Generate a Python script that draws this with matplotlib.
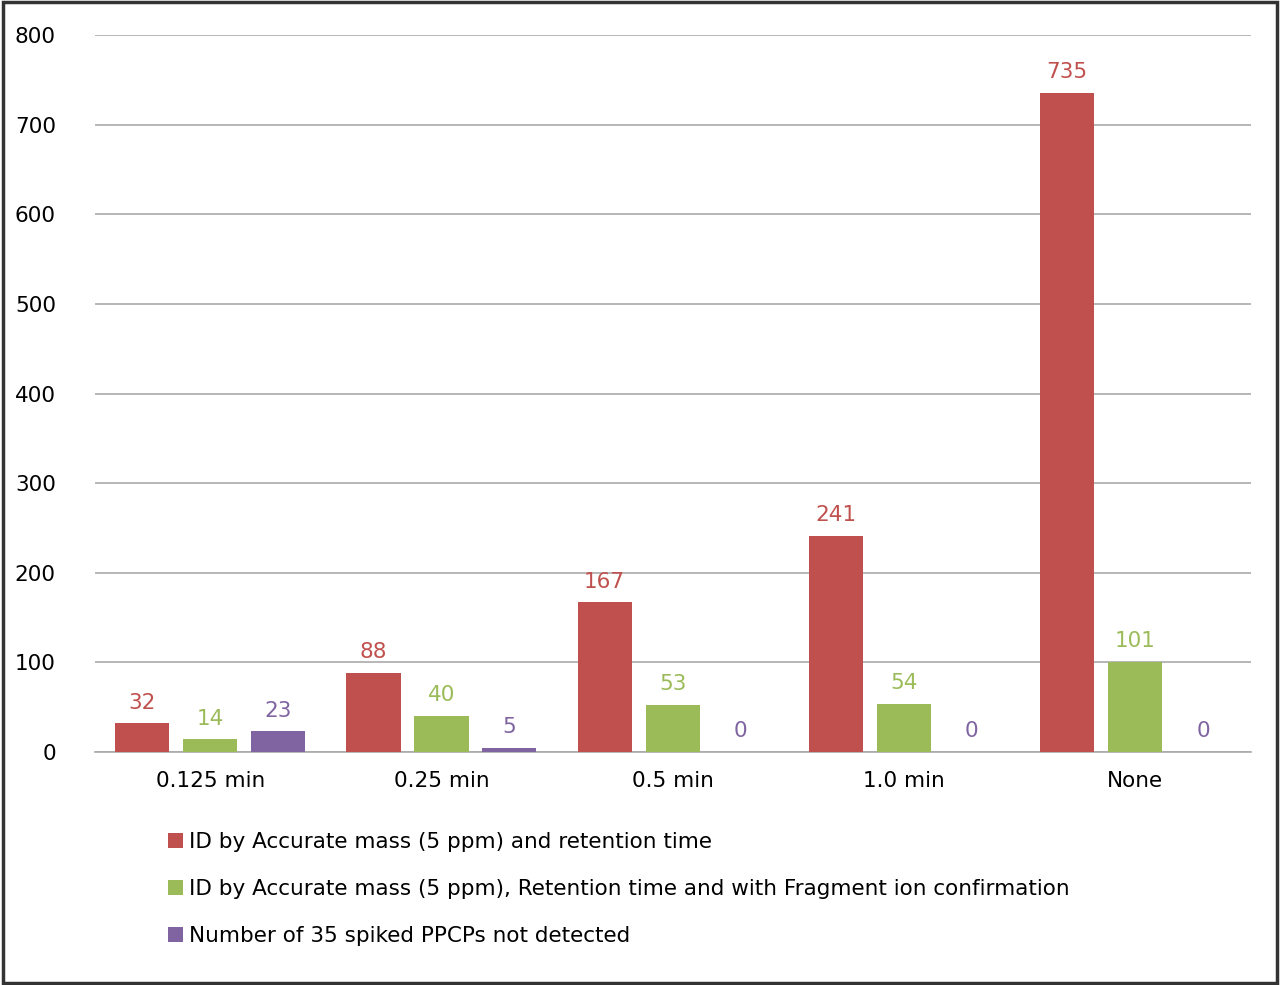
import matplotlib
matplotlib.use("Agg")
import matplotlib.pyplot as plt
from matplotlib.patches import Rectangle
import numpy as np

categories = ["0.125 min", "0.25 min", "0.5 min", "1.0 min", "None"]
series_names = ["ID by Accurate mass (5 ppm) and retention time",
                "ID by Accurate mass (5 ppm), Retention time and with Fragment ion confirmation",
                "Number of 35 spiked PPCPs not detected"]
red_vals = [32, 88, 167, 241, 735]
green_vals = [14, 40, 53, 54, 101]
purple_vals = [23, 5, 0, 0, 0]
colors = ["#C0504D", "#9BBB59", "#8064A2"]
yticks = [0, 100, 200, 300, 400, 500, 600, 700, 800]

fig = plt.figure(figsize=(12.8, 9.85), dpi=100)
ax = fig.add_axes([0.074, 0.2365, 0.903, 0.728])
x = np.arange(len(categories))
w = 0.234
off = 0.294
handles = []
for i, vals in enumerate([red_vals, green_vals, purple_vals]):
    pos = x + (i - 1) * off
    b = ax.bar(pos, vals, width=w, color=colors[i], label=series_names[i], zorder=3)
    handles.append(b)
    for p, v in zip(pos, vals):
        ax.text(p, v + 12, str(v), ha="center", va="bottom", color=colors[i], fontsize=15.5)

ax.set_xlim(-0.5, 4.5)
ax.set_ylim(0, 800)
ax.set_yticks(yticks)
ax.set_xticks(x)
ax.set_xticklabels(categories, fontsize=15.5)
ax.tick_params(axis="y", labelsize=15.5, length=0, pad=28)
ax.tick_params(axis="x", length=0, pad=14)
ax.yaxis.grid(True, color="#AAAAAA", linewidth=1.2, zorder=0)
for s in ["top", "right", "left"]:
    ax.spines[s].set_visible(False)
ax.spines["bottom"].set_color("#AAAAAA")
ax.spines["bottom"].set_linewidth(1.2)

fig.legend(handles=handles, labels=series_names, loc="upper left",
           bbox_to_anchor=(0.116, 0.175), frameon=False, fontsize=15.5,
           labelspacing=1.25, handlelength=0.7, handleheight=0.7, handletextpad=0.3)

fig.patches.append(Rectangle((0.002, 0.002), 0.996, 0.996, transform=fig.transFigure,
                             fill=False, edgecolor="#333333", linewidth=2.5))
fig.savefig("out.png", dpi=100)
